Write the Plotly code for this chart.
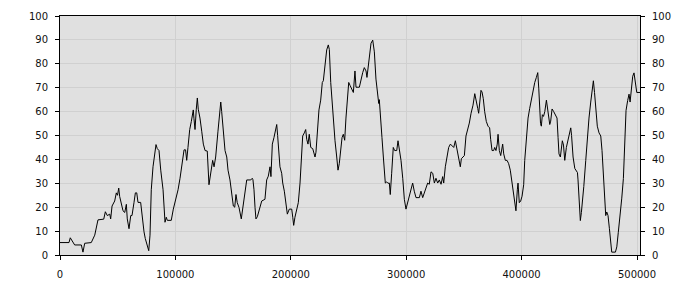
import plotly.graph_objects as go

# x positions (data units) and values
x_vals = [0, 7800, 8900, 11300, 12700, 18500, 19900, 21400, 27100, 30100,
          32900, 37900, 39300, 41000, 43100, 43900, 45100, 47400, 48800, 49800,
          50900, 51700, 53100, 54600, 56100, 57500, 58300, 59800, 61300, 62400,
          64100, 65300, 66500, 67600, 69900, 71100, 72800, 73900, 75600, 76900,
          78000, 79100, 80600, 82100, 83200, 84300, 85800, 87300, 89300, 91000,
          92100, 93000, 96400, 98200, 100300, 102300, 104000, 106000, 107500, 108800,
          109800, 110900, 112400, 113800, 115500, 116100, 117000, 118100, 119000, 119800,
          121300, 122800, 124200, 125700, 127600, 129100, 130600, 132300, 133500, 134900,
          136900, 138600, 139300, 140100, 141500, 143000, 144500, 145600, 147300, 148800,
          150200, 151400, 152500, 153600, 155100, 157100, 158800, 160100, 161800, 165300,
          166600, 167200, 168100, 169000, 169800, 171000, 172700, 174800, 177600, 179100,
          180500, 182000, 182800, 184000, 185400, 186300, 187800, 188600, 189500, 190600,
          192100, 193000, 194400, 195600, 197000, 198700, 200800, 201700, 202500, 203600,
          205100, 206500, 208000, 209500, 210300, 211700, 212900, 213800, 214900, 216000,
          217300, 219000, 221000, 221800, 223300, 224400, 225900, 227300, 228200, 229600,
          231100, 232500, 233400, 234600, 235700, 236800, 238300, 239800, 240900, 242000,
          243500, 244400, 245500, 246700, 247800, 249000, 250200, 251300, 252800, 254200,
          255600, 256500, 259400, 260800, 262300, 263700, 265200, 266000, 267200, 268000,
          269500, 271000, 272400, 273800, 275300, 276200, 276700, 277900, 279000, 280200,
          281900, 283100, 284200, 285400, 286200, 287400, 288800, 290000, 291800, 292900,
          294000, 295500, 297000, 298400, 299800, 301300, 302700, 304200, 305600, 307000,
          308500, 311400, 312800, 314300, 315700, 317200, 318600, 320000, 321500, 323000,
          324400, 325800, 327300, 328700, 330200, 331600, 332500, 333900, 335400, 336800,
          338300, 339700, 341200, 342600, 344000, 345500, 346900, 347800, 349000, 350400,
          351800, 353300, 354700, 356200, 357900, 359400, 360500, 362000, 362800, 363700,
          364800, 365700, 366800, 368000, 369400, 370900, 372300, 373200, 374400, 375800,
          376700, 377800, 378900, 379600, 380700, 381900, 383600, 384500, 385900, 387400,
          388800, 390200, 391700, 393100, 394000, 395100, 396300, 396900, 398000, 399200,
          400400, 401800, 402700, 404100, 405600, 407000, 408500, 409900, 411400, 412800,
          414000, 414900, 415700, 416400, 417100, 418000, 419000, 420100, 421500, 422300,
          423500, 424400, 425200, 426400, 427800, 429200, 430700, 431600, 432400, 433600,
          434400, 435300, 436300, 437400, 438800, 440200, 441700, 442600, 443300, 444600,
          446100, 447500, 448400, 448900, 449800, 450900, 451800, 452700, 453900, 455600,
          456900, 458400, 459900, 461300, 462200, 463200, 464500, 465600, 467100, 468600,
          469700, 470900, 472100, 472900, 473800, 474900, 476100, 477300, 478100, 481300,
          482500, 483800, 485300, 486800, 488200, 489000, 489600, 490500, 491900, 493100,
          494000, 495400, 496300, 497400, 498500, 499800, 502600]

y_vals = [5.2, 5.2, 7.2, 5.6, 4.2, 4.2, 1.2, 4.9, 5.2, 8.3,
          14.7, 15, 18.1, 16.5, 17.1, 15.1, 20.5, 22.6, 26, 25,
          28, 24.5, 21.9, 18.5, 17.8, 21.2, 15.1, 11, 16.5, 16.5,
          21.9, 26, 26, 22, 22, 16.5, 9.7, 6.9, 4.2, 1.8,
          8.3, 27.3, 36.9, 43, 46.2, 44.5, 43.7, 35.5, 27.3, 13.7,
          15.8, 14.5, 14.5, 19.2, 23.3, 27.3, 32.1, 38.2, 44, 44,
          39.6, 45, 52.5, 55.9, 60.7, 57, 52.5, 61, 65.7, 61,
          57.3, 51.8, 46.4, 43.7, 43.5, 29.4, 34.2, 39.6, 36.9, 41,
          51.8, 62.7, 64, 60, 53.2, 43.7, 41, 35.5, 31.4, 24.6,
          20.5, 20, 25.3, 21.9, 19.9, 15.1, 21.9, 26, 31.4, 31.4,
          32.1, 31.5, 27.3, 19.9, 15.1, 16, 19.5, 22.6, 23.3, 31.4,
          33, 36.9, 32.8, 46.4, 49.1, 51.8, 54.6, 50, 43.7, 36.9,
          34.2, 30.1, 26.7, 21.9, 17.1, 19.2, 19.2, 15.8, 12.4, 15.8,
          19.2, 21.9, 30.1, 41, 49.8, 51.1, 52.5, 48.4, 46.4, 50.5,
          45, 44.5, 41, 43, 54.6, 60.7, 64.8, 72.2, 72.9, 79.1,
          85.8, 87.9, 86, 72.2, 64, 55.9, 47.8, 41, 35.5, 38.2,
          43.7, 49.1, 50.5, 48, 57.3, 67, 72.2, 71, 69.5, 68,
          77, 70.2, 70.2, 73.6, 76.3, 78.4, 77, 74.3, 79.1, 84.5,
          88.6, 89.9, 85, 73.6, 66.1, 63.4, 65, 54.6, 49.1, 41,
          30.1, 30.6, 30, 30.1, 25.3, 34.2, 45, 43.7, 43.7, 47.8,
          45, 39.6, 32.1, 23.3, 19.2, 21.9, 24.6, 26.7, 30.1, 26.7,
          24, 24, 26.7, 24, 25.9, 28, 30.1, 29.6, 34.8, 34.2,
          30.1, 32.1, 30.1, 31.4, 29.6, 32.8, 30.1, 36.9, 41, 45,
          46.4, 45.7, 45, 47.8, 44.5, 41, 36.9, 40.3, 41, 41.6,
          49.8, 52.5, 55.2, 59.3, 62.7, 67.5, 65.4, 61.3, 59.3, 64,
          68.9, 68.2, 65.4, 60, 55.9, 53.9, 53.2, 48.4, 43.7, 43.7,
          45, 43.7, 46.4, 50.5, 43.7, 41.6, 46.4, 42.3, 39.6, 39.6,
          38.2, 35.5, 30.1, 24.6, 20.5, 18.5, 27.3, 30.1, 21.9, 22.6,
          24.6, 29.4, 39.6, 49.1, 57.3, 61.3, 65.4, 68.9, 72.2, 74.3,
          76.3, 69.5, 60, 55, 53.9, 58.7, 58, 60, 64.8, 62,
          60, 54.6, 56, 61.1, 60, 58.7, 57.3, 49.1, 42.3, 41,
          45, 47.8, 46, 39.6, 45, 47.8, 51.1, 53.2, 50, 41,
          36.2, 34.8, 34.5, 31.4, 23.3, 14.4, 17.8, 21.9, 28.7, 39.6,
          48.4, 57.3, 64, 69.5, 72.9, 68, 58.7, 53.9, 51.1, 49.8,
          43.7, 31.4, 20.5, 16.5, 18, 16.5, 11, 5.6, 1.2, 1.2,
          3.4, 9.5, 15.6, 23.8, 32, 42.9, 48.3, 60.5, 64.6, 67.3,
          64, 70.1, 74.8, 76.2, 71.4, 68, 68]

x_ticks = [0, 100000, 200000, 300000, 400000, 500000]
x_tick_text = ["0", "100000", "200000", "300000", "400000", "500000"]
y_ticks = [0, 10, 20, 30, 40, 50, 60, 70, 80, 90, 100]

font = dict(family="DejaVu Sans", size=10, color="#111111")

fig = go.Figure()
fig.add_trace(go.Scatter(x=x_vals, y=y_vals, mode="lines",
                         line=dict(color="#000000", width=1),
                         showlegend=False, hoverinfo="skip"))
fig.add_trace(go.Scatter(x=[None], y=[None], yaxis="y2", mode="lines",
                         showlegend=False, hoverinfo="skip"))

axis_common = dict(showline=True, linecolor="#000000", linewidth=1,
                   ticks="outside", ticklen=4, tickcolor="#000000",
                   tickfont=font, zeroline=False)

fig.update_layout(
    width=700, height=300,
    margin=dict(l=60, r=60, t=10, b=45),
    paper_bgcolor="#ffffff", plot_bgcolor="#e0e0e0",
    xaxis=dict(range=[0, 502600], tickvals=x_ticks, ticktext=x_tick_text,
               showgrid=True, gridcolor="#d0d0d0", gridwidth=1,
               mirror=True, ticklabelstandoff=6, **axis_common),
    yaxis=dict(range=[0, 100], tickvals=y_ticks, showgrid=True,
               gridcolor="#d0d0d0", gridwidth=1, ticklabelstandoff=5,
               **axis_common),
    yaxis2=dict(range=[0, 100], tickvals=y_ticks, overlaying="y", side="right",
                showgrid=False, ticklabelstandoff=5, **axis_common),
)

fig.write_html("out.html")
